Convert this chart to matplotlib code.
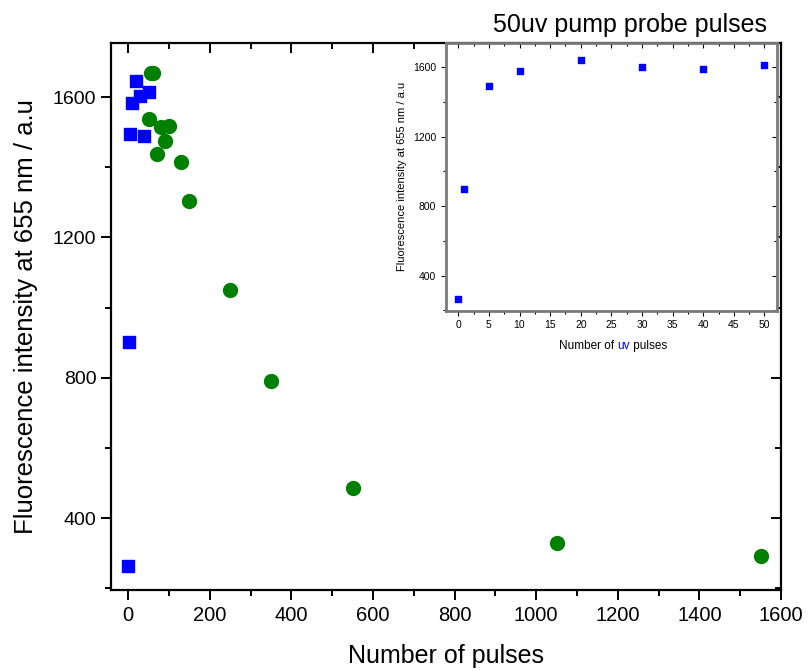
import matplotlib
matplotlib.use("Agg")
import matplotlib.pyplot as plt
from matplotlib.ticker import MultipleLocator

plt.rcParams['font.family'] = ['Liberation Sans', 'DejaVu Sans']

# main plot: blue squares (uv pulses) and green circles (pump probe pulses)
uv_x = [0, 1, 5, 10, 20, 30, 40, 50]
uv_y = [263, 903, 1494, 1582, 1645, 1603, 1490, 1615]
pp_x = [55, 60, 50, 70, 80, 90, 100, 130, 150, 250, 350, 550, 1050, 1550]
pp_y = [1668, 1668, 1537, 1438, 1515, 1475, 1518, 1414, 1304, 1050, 791, 486, 329, 292]

# inset: 50uv pump probe pulses
in_x = [0, 1, 5, 10, 20, 30, 40, 50]
in_y = [266, 901, 1492, 1579, 1642, 1600, 1588, 1613]

fig = plt.figure(figsize=(8.08, 6.71), dpi=100)
ax = fig.add_axes([0.1374, 0.1207, 0.8292, 0.8152])

ax.scatter(uv_x, uv_y, marker='s', s=72, color='#0000ff', zorder=3)
ax.scatter(pp_x, pp_y, marker='o', s=100, color='#008000', zorder=3)

ax.set_xlim(-42, 1600)
ax.set_ylim(195, 1754)
ax.xaxis.set_major_locator(MultipleLocator(200))
ax.xaxis.set_minor_locator(MultipleLocator(100))
ax.yaxis.set_major_locator(MultipleLocator(400))
ax.yaxis.set_minor_locator(MultipleLocator(200))
ax.tick_params(which='both', direction='out', width=1.4)
ax.tick_params(which='major', length=7.5)
ax.tick_params(which='minor', length=4)
ax.tick_params(axis='y', labelsize=14, pad=3)
ax.tick_params(axis='x', labelsize=14.5, pad=4)
# inward ticks on the top and right spines, no labels
ax.tick_params(which='both', top=True, right=True)
for t in ax.xaxis.get_major_ticks() + ax.xaxis.get_minor_ticks():
    t.tick2line.set_marker(matplotlib.markers.TICKDOWN)
for t in ax.yaxis.get_major_ticks() + ax.yaxis.get_minor_ticks():
    t.tick2line.set_marker(matplotlib.markers.TICKLEFT)
for sp in ax.spines.values():
    sp.set_linewidth(1.6)
ax.set_xlabel('Number of pulses', fontsize=18, labelpad=14)
ax.set_ylabel('Fluorescence intensity at 655 nm / a.u', fontsize=18.5, labelpad=11)

# inset
ins = fig.add_axes([0.552, 0.537, 0.4093, 0.3994])
ins.scatter(in_x, in_y, marker='s', s=18, color='#0000ff', zorder=3)
ins.set_xlim(-2, 52)
ins.set_ylim(198, 1742)
ins.xaxis.set_major_locator(MultipleLocator(5))
ins.xaxis.set_minor_locator(MultipleLocator(2.5))
ins.yaxis.set_major_locator(MultipleLocator(400))
ins.yaxis.set_minor_locator(MultipleLocator(200))
ins.tick_params(which='both', direction='out', width=0.8, top=True, right=True, labelsize=7.5)
ins.tick_params(which='major', length=3.5)
ins.tick_params(which='minor', length=2)
for t in ins.xaxis.get_major_ticks() + ins.xaxis.get_minor_ticks():
    t.tick2line.set_marker(matplotlib.markers.TICKDOWN)
for t in ins.yaxis.get_major_ticks() + ins.yaxis.get_minor_ticks():
    t.tick2line.set_marker(matplotlib.markers.TICKLEFT)
for sp in ins.spines.values():
    sp.set_linewidth(2.0)
    sp.set_color('#7a7a7a')
ins.set_ylabel('Fluorescence intensity at 655 nm / a.u', fontsize=8)
fig.text(0.78, 1 - 32 / 671, '50uv pump probe pulses', fontsize=18,
         ha='center', va='baseline')

# inset xlabel with "uv" in blue
t1 = fig.text(0.692, 0.48, 'Number of ', fontsize=8.5, ha='left', va='baseline')
t2 = ins.annotate('uv', xy=(1, 0), xycoords=t1, fontsize=8.5, color='#0000ff',
                  ha='left', va='bottom')
t3 = ins.annotate(' pulses', xy=(1, 0), xycoords=t2, fontsize=8.5, ha='left', va='bottom')

fig.savefig('out.png', dpi=100)
